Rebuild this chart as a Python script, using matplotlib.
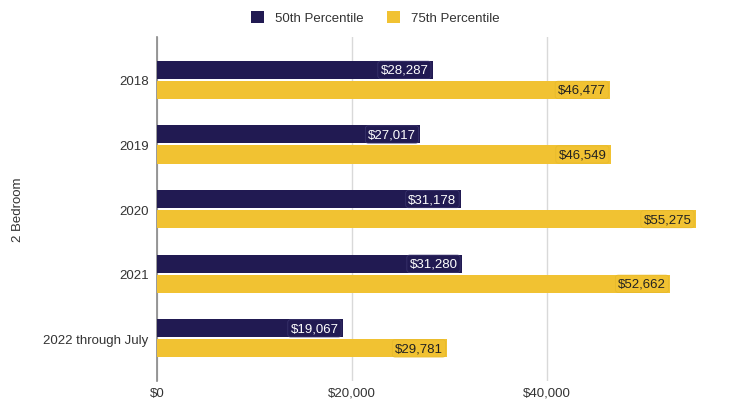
import numpy as np
import matplotlib
matplotlib.use('Agg')
import matplotlib.pyplot as plt
from matplotlib.ticker import FuncFormatter

plt.rcParams['font.family'] = ['Liberation Sans', 'DejaVu Sans']

years = ['2018', '2019', '2020', '2021', '2022 through July']
p50 = [28287, 27017, 31178, 31280, 19067]
p75 = [46477, 46549, 55275, 52662, 29781]

dark = '#211a52'
gold = '#f1c232'
txt = '#333333'

fig = plt.figure(figsize=(7.36, 4.06), dpi=100)
ax = fig.add_axes([0.2133, 0.059, 0.7867, 0.847])

y = np.arange(len(years))
h = 0.28
off = 0.155
ax.barh(y - off, p50, height=h, color=dark, label='50th Percentile', zorder=3)
ax.barh(y + off, p75, height=h, color=gold, label='75th Percentile', zorder=3)

# value labels sit at the bar ends
for i in range(len(years)):
    ax.text(p50[i] - 450, y[i] - off, '${:,}'.format(p50[i]), ha='right', va='center',
            color='white', fontsize=9.5, zorder=4,
            bbox=dict(boxstyle='round,pad=0.2', fc=dark, ec='#3d3770', lw=0.5))
    ax.text(p75[i] - 450, y[i] + off, '${:,}'.format(p75[i]), ha='right', va='center',
            color='#222222', fontsize=9.5, zorder=4,
            bbox=dict(boxstyle='round,pad=0.2', fc=gold, ec='#e6b92a', lw=0.5))

ax.set_ylim(4.66, -0.66)
ax.set_xlim(0, 59400)
ax.set_yticks(y)
ax.set_yticklabels(years, fontsize=9.5, color=txt)
ax.set_xticks([0, 20000, 40000])
ax.xaxis.set_major_formatter(FuncFormatter(lambda v, p: '${:,.0f}'.format(v)))
ax.tick_params(axis='x', labelsize=9.5, labelcolor=txt, length=0, pad=4)
ax.tick_params(axis='y', length=0, pad=6)
ax.grid(axis='x', color='#d9d9d9', lw=1, zorder=0)
for s in ['top', 'right', 'bottom']:
    ax.spines[s].set_visible(False)
ax.spines['left'].set_color('#888888')
ax.spines['left'].set_linewidth(1.2)
ax.set_ylabel('2 Bedroom', fontsize=9.5, color=txt, labelpad=14)

fig.legend(loc='upper center', bbox_to_anchor=(0.51, 1.0), ncol=2, frameon=False,
           fontsize=9.5, handlelength=1.0, handleheight=1.0, columnspacing=1.8,
           handletextpad=0.8, labelcolor=txt)

fig.savefig('out.png', dpi=100)
